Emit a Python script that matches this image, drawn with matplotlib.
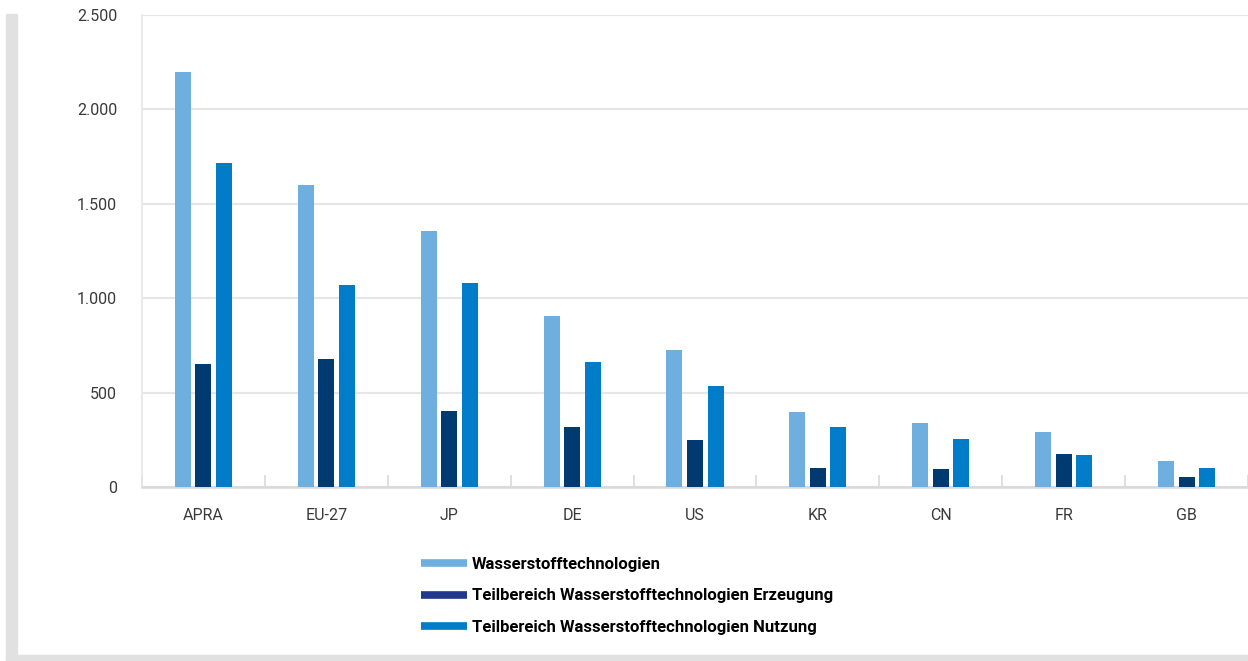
import matplotlib
matplotlib.use("Agg")
import matplotlib.pyplot as plt
import numpy as np
from matplotlib.lines import Line2D
from matplotlib.patches import Rectangle
from matplotlib.ticker import FuncFormatter, FixedLocator

countries = ["APRA", "EU-27", "JP", "DE", "US", "KR", "CN", "FR", "GB"]
gesamt = [2200, 1600, 1355, 905, 725, 397, 339, 291, 138]
erzeugung = [650, 678, 403, 318, 249, 101, 95, 175, 53]
nutzung = [1715, 1070, 1080, 662, 535, 318, 254, 169, 101]

series_names = [
    "Wasserstofftechnologien",
    "Teilbereich Wasserstofftechnologien Erzeugung",
    "Teilbereich Wasserstofftechnologien Nutzung",
]
colors = ["#6FAFE0", "#003A70", "#007CC8"]
legend_colors = ["#6FAFE0", "#22388C", "#007CC8"]

FONT = ["Roboto", "DejaVu Sans"]

W, H = 1248, 661
fig = plt.figure(figsize=(W / 100, H / 100), dpi=100)
ax = fig.add_axes([142 / W, 1 - 487 / H, 1 - 142 / W, (487 - 15) / H])

x = np.arange(len(countries))
bw = 0.13
off = 0.167
for i, (vals, c) in enumerate(zip([gesamt, erzeugung, nutzung], colors)):
    ax.bar(x + (i - 1) * off, vals, width=bw, color=c, zorder=3)

ax.set_xlim(-0.5, len(countries) - 0.5)
ax.set_ylim(0, 2500)
ax.set_yticks(np.arange(0, 2501, 500))
ax.yaxis.set_major_formatter(FuncFormatter(lambda v, p: f"{int(v):,}".replace(",", ".")))
ax.grid(axis="y", color="#e6e6e6", lw=1.5, zorder=0)
ax.set_axisbelow(True)

ax.xaxis.set_major_locator(FixedLocator(np.arange(-0.5, len(countries), 1.0)))
ax.xaxis.set_minor_locator(FixedLocator(x))
ax.set_xticklabels([])
ax.set_xticklabels(countries, minor=True)
ax.tick_params(axis="x", which="major", direction="in", length=9, color="#d9d9d9", width=1.2)
ax.tick_params(axis="x", which="minor", length=0, pad=15, labelsize=11.5, labelcolor="#3a3a3a")
ax.tick_params(axis="y", length=0, pad=18, labelsize=11.5, labelcolor="#3a3a3a")

for s in ["top", "right"]:
    ax.spines[s].set_visible(False)
ax.spines["left"].set_color("#e6e6e6")
ax.spines["left"].set_linewidth(1.2)
ax.spines["bottom"].set_color("#d9d9d9")
ax.spines["bottom"].set_linewidth(1.8)

for lab in ax.get_xticklabels(minor=True) + ax.get_yticklabels():
    lab.set_family(FONT)

handles = [Line2D([], [], color=c, lw=5.5, solid_capstyle="butt") for c in legend_colors]
fig.legend(handles, series_names, loc="upper left",
           bbox_to_anchor=(421 / W, 1 - 557 / H), frameon=False,
           prop={"family": FONT, "weight": "bold", "size": 12},
           handlelength=2.75, handletextpad=0.3, labelspacing=0.98, borderaxespad=0, borderpad=0)

# grey frame
fig.patches.append(Rectangle((6 / W, 0), 11 / W, 1 - 14 / H, transform=fig.transFigure,
                             color="#e1e1e1", zorder=0))
fig.patches.append(Rectangle((6 / W, 0), 1, 6 / H, transform=fig.transFigure,
                             color="#e1e1e1", zorder=0))

fig.savefig("out.png", dpi=100)
